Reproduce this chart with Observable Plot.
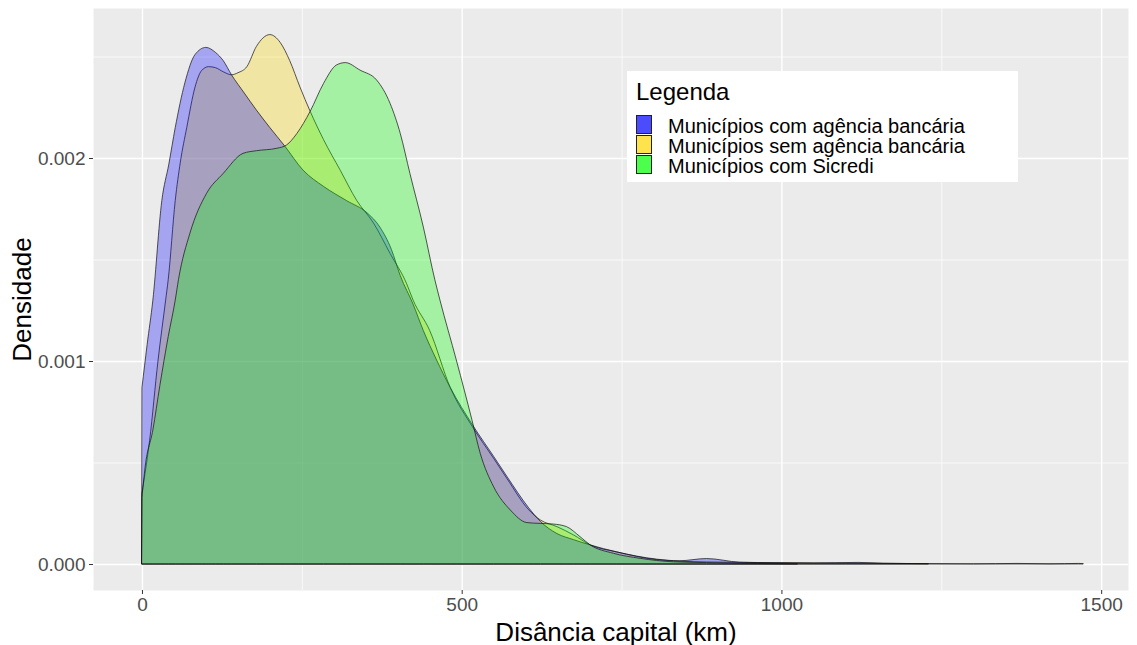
<!DOCTYPE html>
<html>
<head>
<meta charset="utf-8">
<script src="https://cdn.jsdelivr.net/npm/d3@7"></script>
<script src="https://cdn.jsdelivr.net/npm/@observablehq/plot@0.6"></script>
<style>
  html, body { margin: 0; padding: 0; background: white; }
  #wrap { position: relative; width: 1137px; height: 645px; font-family: "Liberation Sans", Arial, sans-serif; }
  #legend { position: absolute; left: 627px; top: 71px; width: 391px; height: 111px; background: white; }
  #legend .title { position: absolute; left: 9px; top: 8.7px; font-size: 24px; line-height: 24px; color: black; white-space: nowrap; }
  #legend .key { position: absolute; left: 9px; width: 16px; height: 19px; border: 0.8px solid #222; box-sizing: border-box; }
  #legend .lab { position: absolute; left: 41px; font-size: 20px; line-height: 20px; color: black; white-space: nowrap; }
</style>
</head>
<body>
<div id="wrap"><div id="chart"></div><div id="legend"></div></div>
<script>
// ---- data ----
const seriesNames = ["Municípios com agência bancária", "Municípios sem agência bancária", "Municípios com Sicredi"];
const seriesFill = ["#0000FF", "#FFD700", "#00FF00"];
const legendKeyFill = ["#4C4CFF", "#FFE34C", "#4CFF4C"];

const distBlue = [0, 8, 17, 31, 42, 52, 67, 83, 100, 115, 127, 140, 160, 179, 200, 223, 252, 284, 320, 352, 372, 390, 404, 424, 440, 460, 482, 518, 550, 571, 604, 623, 649, 675, 701, 742, 805, 840, 883, 935, 990, 1050, 1120, 1160, 1230, 1300, 1370, 1420, 1465, 1472];
const densBlue = [0.00087, 0.00108, 0.0013, 0.00179, 0.00197, 0.00215, 0.00237, 0.00251, 0.002545, 0.00252, 0.00248, 0.00241, 0.00232, 0.002236, 0.00215, 0.00206, 0.00194, 0.00186, 0.00179, 0.00173, 0.00166, 0.00155, 0.00142, 0.00128, 0.00115, 0.00101, 0.00087, 0.00068, 0.00053, 0.00043, 0.00028, 0.00021, 0.00015, 0.00012, 0.000094, 0.00006, 0.000024, 0.000016, 0.000027, 0.000009, 0.000006, 0.000005, 0.000008, 0.000004, 0.000002, 0.000001, 0.000003, 0.000001, 0.000003, 0.000002];

const distYellow = [0, 12, 25, 37, 41, 52, 60, 70, 83, 93, 104, 115, 127, 140, 150, 164, 179, 200, 216, 231, 247, 263, 284, 310, 336, 362, 388, 414, 424, 450, 482, 518, 550, 571, 604, 623, 649, 675, 701, 742, 805, 883, 987, 1100, 1230];
const densYellow = [0.00035, 0.00061, 0.001, 0.0013, 0.0014, 0.00179, 0.00198, 0.00215, 0.00235, 0.00243, 0.00245, 0.002445, 0.002425, 0.00241, 0.00242, 0.00245, 0.00255, 0.002608, 0.00257, 0.00248, 0.00235, 0.00223, 0.00209, 0.00194, 0.00179, 0.00168, 0.00153, 0.00138, 0.0013, 0.00115, 0.00087, 0.00067, 0.00052, 0.00042, 0.00027, 0.000217, 0.000184, 0.000143, 0.000094, 0.00006, 0.000022, 0.00001, 0.000007, 0.000004, 0.000002];

const distGreen = [0, 5, 17, 28, 41, 52, 57, 75, 101, 127, 158, 179, 211, 226, 242, 263, 284, 304, 318, 341, 367, 388, 404, 419, 440, 458, 466, 492, 516, 529, 550, 576, 602, 623, 643, 664, 685, 701, 737, 779, 831, 883, 950, 1025];
const densGreen = [0.00033, 0.00048, 0.00066, 0.00088, 0.00112, 0.0013, 0.0014, 0.00163, 0.001826, 0.001924, 0.002023, 0.002036, 0.002048, 0.002064, 0.00212, 0.00223, 0.002368, 0.002458, 0.00247, 0.002433, 0.002384, 0.002269, 0.00212, 0.001924, 0.00166, 0.0014, 0.0013, 0.001, 0.00071, 0.000545, 0.00038, 0.000266, 0.000204, 0.0002, 0.000197, 0.000184, 0.000135, 0.000094, 0.000053, 0.000028, 0.000011, 0.000007, 0.000003, 0.000001];

const xMajor = [0, 500, 1000, 1500];
const xMinor = [250, 750, 1250];
const yMajor = [0, 0.001, 0.002];
const yMinor = [0.0005, 0.0015, 0.0025];
const xTitle = "Disância capital (km)";
const yTitle = "Densidade";
const legendTitle = "Legenda";

// ---- build tables ----
const toRows = (xs, ds) => xs.map((x, i) => ({x, d: ds[i]}));
const blueRows = toRows(distBlue, densBlue);
const yellowRows = toRows(distYellow, densYellow);
const greenRows = toRows(distGreen, densGreen);

const areaOpts = (fill) => ({x: "x", y: "d", fill, fillOpacity: 0.3, stroke: "#111", strokeWidth: 0.7, curve: "monotone-x"});

const chart = Plot.plot({
  width: 1137, height: 645,
  marginLeft: 93, marginRight: 9, marginTop: 8, marginBottom: 55,
  style: {fontFamily: "Liberation Sans, Arial, sans-serif", color: "#4D4D4D", background: "white", overflow: "visible"},
  x: {domain: [-76.6, 1542]},
  y: {domain: [-0.000128, 0.002739]},
  marks: [
    Plot.frame({fill: "#EBEBEB", stroke: null}),
    Plot.gridX(xMinor, {stroke: "white", strokeOpacity: 1, strokeWidth: 0.7}),
    Plot.gridY(yMinor, {stroke: "white", strokeOpacity: 1, strokeWidth: 0.7}),
    Plot.gridX(xMajor, {stroke: "white", strokeOpacity: 1, strokeWidth: 1.4}),
    Plot.gridY(yMajor, {stroke: "white", strokeOpacity: 1, strokeWidth: 1.4}),
    Plot.areaY(yellowRows, areaOpts(seriesFill[1])),
    Plot.areaY(blueRows, areaOpts(seriesFill[0])),
    Plot.areaY(greenRows, areaOpts(seriesFill[2])),
    Plot.axisX({ticks: xMajor, tickSize: 4, tickPadding: 3, fontSize: 19, label: null, stroke: "#333", tickFormat: d3.format("d")}),
    Plot.axisY({ticks: yMajor, tickSize: 4, tickPadding: 4, fontSize: 19, label: null, stroke: "#333", tickFormat: d3.format(".3f")}),
    Plot.text([xTitle], {text: d => d, frameAnchor: "bottom", textAnchor: "middle", lineAnchor: "middle", dx: 5, dy: 42, fontSize: 26, fill: "black"}),
    Plot.text([yTitle], {text: d => d, frameAnchor: "left", textAnchor: "middle", lineAnchor: "middle", dx: -71, rotate: -90, fontSize: 26, fill: "black"})
  ]
});
document.getElementById("chart").append(chart);

// ---- legend (HTML overlay) ----
const lg = document.getElementById("legend");
const t = document.createElement("div");
t.className = "title"; t.textContent = legendTitle; lg.append(t);
seriesNames.forEach((name, i) => {
  const k = document.createElement("div");
  k.className = "key"; k.style.top = (43.5 + 20 * i) + "px"; k.style.background = legendKeyFill[i];
  lg.append(k);
  const l = document.createElement("div");
  l.className = "lab"; l.style.top = (45.1 + 20 * i) + "px"; l.textContent = name;
  lg.append(l);
});
</script>
</body>
</html>
